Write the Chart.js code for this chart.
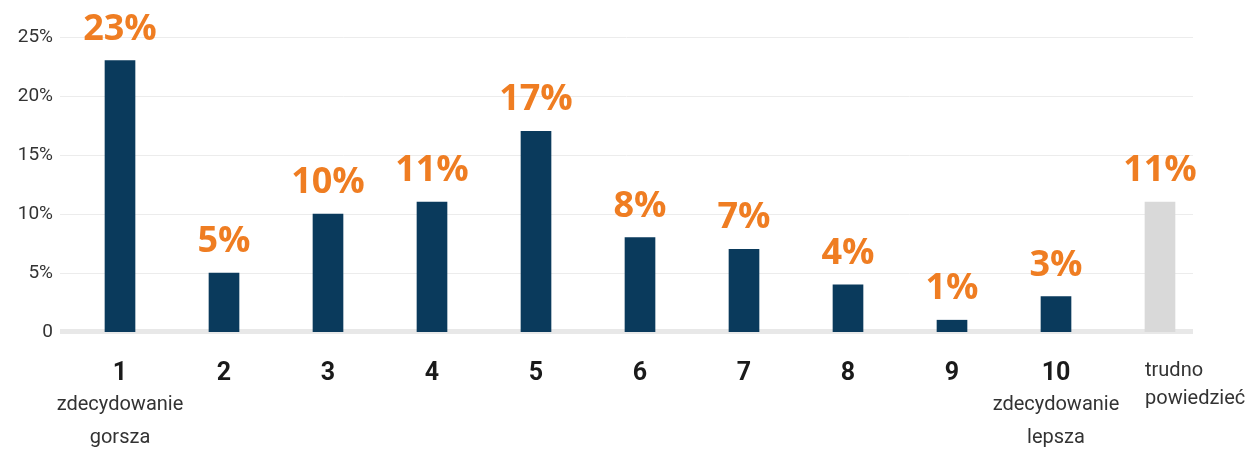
<!DOCTYPE html>
<html>
<head>
<meta charset="utf-8">
<script src="https://cdn.jsdelivr.net/npm/chart.js@4"></script>
<style>
  body { margin: 0; background: #fff; }
</style>
</head>
<body>
<canvas id="ocenaChart" width="1259" height="450"></canvas>
<script>
// dane z wykresu
const categories = ['1', '2', '3', '4', '5', '6', '7', '8', '9', '10', 'trudno powiedzieć'];
const values = [23, 5, 10, 11, 17, 8, 7, 4, 1, 3, 11];
const subLabels = [['zdecydowanie', 'gorsza'], [], [], [], [], [], [], [], [], ['zdecydowanie', 'lepsza'], []];
const yTicks = [0, 5, 10, 15, 20, 25];

const NAVY = '#0a3a5c';
const ORANGE = '#ef7d22';
const GREY_BAR = '#d9d9d9';
const FONT = '"Open Sans", "Noto Sans", sans-serif';
const LABEL_FONT = 'Roboto, "Noto Sans", sans-serif';

// siatka rysowana ręcznie (krótsza niż obszar wykresu)
const gridPlugin = {
  id: 'grid',
  beforeDatasetsDraw(chart) {
    const ctx = chart.ctx;
    const y = chart.scales.y;
    const left = chart.chartArea.left - 8;
    const right = chart.chartArea.right - 19;
    ctx.save();
    yTicks.forEach(t => {
      const py = y.getPixelForValue(t);
      if (t === 0) {
        ctx.fillStyle = '#e8e8e8';
        ctx.fillRect(left, py - 3, right - left, 5);
      } else {
        ctx.strokeStyle = '#ececec';
        ctx.lineWidth = 1;
        ctx.beginPath();
        ctx.moveTo(left, Math.round(py) + 0.5);
        ctx.lineTo(right, Math.round(py) + 0.5);
        ctx.stroke();
      }
    });
    ctx.restore();
  }
};

// etykiety procentowe nad słupkami
const valueLabels = {
  id: 'valueLabels',
  afterDatasetsDraw(chart) {
    const ctx = chart.ctx;
    const meta = chart.getDatasetMeta(0);
    ctx.save();
    ctx.fillStyle = ORANGE;
    ctx.font = 'bold 36px ' + FONT;
    ctx.textAlign = 'center';
    ctx.textBaseline = 'alphabetic';
    meta.data.forEach((bar, i) => {
      ctx.fillText(values[i] + '%', bar.x, bar.y - 21);
    });
    ctx.restore();
  }
};

// podpisy osi X (numer pogrubiony + opis)
const xLabels = {
  id: 'xLabels',
  afterDraw(chart) {
    const ctx = chart.ctx;
    const x = chart.scales.x;
    ctx.save();
    ctx.textBaseline = 'alphabetic';
    categories.forEach((cat, i) => {
      const px = x.getPixelForValue(i);
      if (i === categories.length - 1) {
        ctx.font = '20px ' + LABEL_FONT;
        ctx.fillStyle = '#333';
        ctx.textAlign = 'left';
        cat.split(' ').forEach((line, j) => {
          ctx.fillText(line, px - 15, 376 + j * 28);
        });
        return;
      }
      ctx.textAlign = 'center';
      ctx.font = 'bold 25px ' + LABEL_FONT;
      ctx.fillStyle = '#1a1a1a';
      ctx.fillText(cat, px, 380);
      ctx.font = '20px ' + LABEL_FONT;
      ctx.fillStyle = '#333';
      subLabels[i].forEach((line, j) => {
        ctx.fillText(line, px, 410 + j * 33);
      });
    });
    ctx.restore();
  }
};

const ctx = document.getElementById('ocenaChart').getContext('2d');
new Chart(ctx, {
  type: 'bar',
  data: {
    labels: categories,
    datasets: [{
      data: values,
      backgroundColor: values.map((v, i) => i === values.length - 1 ? GREY_BAR : NAVY),
      barThickness: 30,
      borderWidth: 0
    }]
  },
  options: {
    responsive: false,
    animation: false,
    layout: { padding: { top: 37, right: 47, left: 0, bottom: 0 } },
    plugins: {
      legend: { display: false },
      tooltip: { enabled: false }
    },
    scales: {
      x: {
        grid: { display: false, drawTicks: false },
        border: { display: false },
        ticks: { display: false },
        afterFit(scale) { scale.height = 118; }
      },
      y: {
        min: 0,
        max: 25,
        grid: { display: false, drawTicks: false },
        border: { display: false },
        ticks: {
          stepSize: 5,
          padding: 15,
          color: '#333',
          font: { family: LABEL_FONT, size: 19 },
          callback: v => v === 0 ? '0' : v + '%'
        },
        afterFit(scale) { scale.width = 68; }
      }
    }
  },
  plugins: [gridPlugin, valueLabels, xLabels]
});
</script>
</body>
</html>
